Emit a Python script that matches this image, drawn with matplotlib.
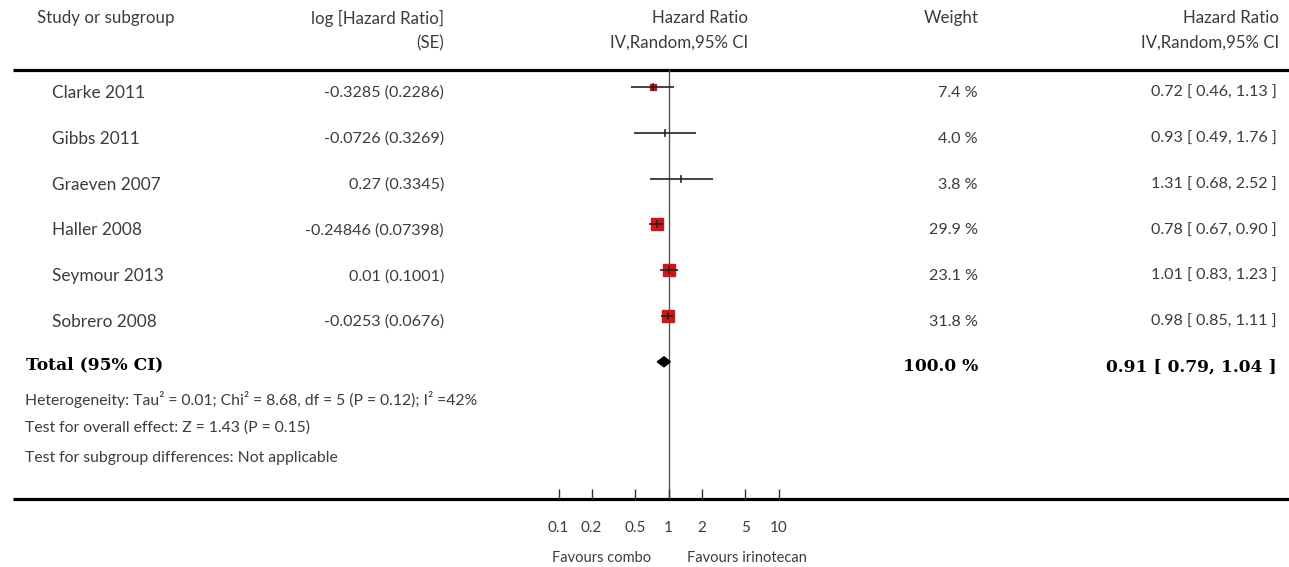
import numpy as np
import matplotlib
matplotlib.use("Agg")
import matplotlib.pyplot as plt

# ---------------- data ----------------
studies = ["Clarke 2011", "Gibbs 2011", "Graeven 2007", "Haller 2008", "Seymour 2013", "Sobrero 2008"]
log_hr_se = ["-0.3285 (0.2286)", "-0.0726 (0.3269)", "0.27 (0.3345)",
             "-0.24846 (0.07398)", "0.01 (0.1001)", "-0.0253 (0.0676)"]
hr = [0.72, 0.93, 1.31, 0.78, 1.01, 0.98]
ci_low = [0.46, 0.49, 0.68, 0.67, 0.83, 0.85]
ci_high = [1.13, 1.76, 2.52, 0.90, 1.23, 1.11]
weights = [7.4, 4.0, 3.8, 29.9, 23.1, 31.8]
total_hr = 0.91
total_low = 0.79
total_high = 1.04
total_weight = 100.0
tick_values = [0.1, 0.2, 0.5, 1, 2, 5, 10]
tick_labels = ["0.1", "0.2", "0.5", "1", "2", "5", "10"]
heterogeneity = "Heterogeneity: Tau² = 0.01; Chi² = 8.68, df = 5 (P = 0.12); I² =42%"
overall = "Test for overall effect: Z = 1.43 (P = 0.15)"
subgroup = "Test for subgroup differences: Not applicable"
left_label = "Favours combo"
right_label = "Favours irinotecan"

# ---------------- layout ----------------
W, H = 1289, 567
fig = plt.figure(figsize=(W / 100, H / 100), dpi=100)
ax = fig.add_axes([0, 0, 1, 1])
ax.set_xlim(0, W)
ax.set_ylim(H, 0)
ax.axis("off")

FONT = "Lato"
TXT = "#3c3c3c"
FS = 11.6

def t(x, y, s, ha="left", **kw):
    kw.setdefault("fontsize", FS)
    kw.setdefault("color", TXT)
    kw.setdefault("family", FONT)
    ax.text(x, y, s, ha=ha, va="center", **kw)

# headers
HFS = 12.2
t(37, 18, "Study or subgroup", fontsize=HFS)
t(444, 18, "log [Hazard Ratio]", ha="right", fontsize=HFS)
t(444, 43, "(SE)", ha="right", fontsize=HFS)
t(748, 18, "Hazard Ratio", ha="right", fontsize=HFS)
t(748, 43, "IV,Random,95% CI", ha="right", fontsize=HFS)
t(979, 18, "Weight", ha="right", fontsize=HFS)
t(1279, 18, "Hazard Ratio", ha="right", fontsize=HFS)
t(1279, 43, "IV,Random,95% CI", ha="right", fontsize=HFS)

# rules
ax.plot([13, W], [70, 70], color="black", lw=2.3, solid_capstyle="butt")
ax.plot([13, W], [499, 499], color="black", lw=2.3, solid_capstyle="butt")

row0, dy = 87.0, 45.8
rows_y = [row0 + i * dy for i in range(len(studies))]
total_y = row0 + len(studies) * dy
text_off = 6

for i, y in enumerate(rows_y):
    t(52, y + text_off, studies[i], fontsize=12.4)
    t(444, y + text_off, log_hr_se[i], ha="right")
    t(978, y + text_off, f"{weights[i]:.1f} %", ha="right")
    t(1277, y + text_off, f"{hr[i]:.2f} [ {ci_low[i]:.2f}, {ci_high[i]:.2f} ]", ha="right")

# total row
SERIF = "DejaVu Serif"
ax.text(26, total_y + 3, "Total (95% CI)", ha="left", va="center", fontsize=12.3,
        family=SERIF, fontweight="bold", color="black")
ax.text(978, total_y + 5, f"{total_weight:.1f} %", ha="right", va="center", fontsize=12.3,
        family=SERIF, fontweight="bold", color="black")
ax.text(1277, total_y + 5, f"{total_hr:.2f} [ {total_low:.2f}, {total_high:.2f} ]", ha="right",
        va="center", fontsize=12.3, family=SERIF, fontweight="bold", color="black")

SFS = 11.3
t(25, 400, heterogeneity, fontsize=SFS)
t(25, 428, overall, fontsize=SFS)
t(25, 458, subgroup, fontsize=SFS)

# ---------------- forest plot ----------------
x0, x1 = 558.5, 778.5
ytop, ybot = 70, 499
fx = fig.add_axes([x0 / W, (H - ybot) / H, (x1 - x0) / W, (ybot - ytop) / H])
fx.set_xscale("log")
fx.set_xlim(0.1, 10)
fx.set_ylim(ybot, ytop)
fx.patch.set_alpha(0)
for s in fx.spines.values():
    s.set_visible(False)
fx.set_yticks([])
fx.set_xticks(tick_values)
fx.set_xticklabels(tick_labels)
fx.minorticks_off()
fx.tick_params(axis="x", direction="in", length=7, width=1, color="#333333",
               pad=16, labelsize=11, labelcolor=TXT)
for lab in fx.get_xticklabels():
    lab.set_family(FONT)

fx.axvline(1, color="#555555", lw=1.0, zorder=1)

for i, y in enumerate(rows_y):
    side = 2.3 * np.sqrt(weights[i]) if weights[i] >= 5 else 0
    if side > 0:
        fx.plot(hr[i], y, marker="s", ms=side * 0.72, color="#d01515", mec="#d01515", zorder=2, ls="none")
    fx.plot([ci_low[i], ci_high[i]], [y, y], color="#222222", lw=1.2, zorder=3, solid_capstyle="butt")
    fx.plot([hr[i], hr[i]], [y - 3, y + 3], color="#222222", lw=1.2, zorder=3)

# diamond
dh = 5
fx.fill([total_low, total_hr, total_high, total_hr], [total_y, total_y - dh, total_y, total_y + dh],
        color="black", zorder=4)

ax.text(651, 558, left_label, ha="right", va="center", fontsize=10.5, family=FONT, color=TXT)
ax.text(687, 558, right_label, ha="left", va="center", fontsize=10.5, family=FONT, color=TXT)

fig.savefig("out.png", dpi=100)
